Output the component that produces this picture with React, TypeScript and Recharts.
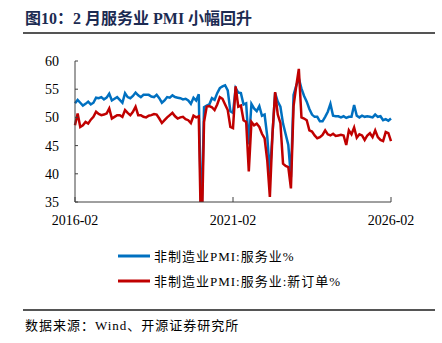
import { LineChart, Line, XAxis, YAxis, Legend } from "recharts";

// monthly, 2016-02 .. 2026-02
const servicePmi = [
  52.5, 53.1, 52.6, 52.1, 52.4, 52.8, 52.3, 52.6, 53.5, 53.4,
  53.6, 53.2, 53.5, 54.2, 53.0, 53.3, 53.6, 53.1, 52.6, 54.3,
  53.6, 53.4, 53.8, 54.4, 53.9, 53.6, 54.0, 54.0, 54.0, 53.7,
  53.6, 54.0, 53.4, 52.6, 53.0, 53.6, 53.5, 53.9, 53.6, 53.5,
  53.4, 53.2, 53.3, 53.0, 52.4, 53.5, 53.0, 54.1, 30.1, 51.8,
  52.1, 52.3, 53.4, 53.1, 54.3, 55.2, 55.5, 55.7, 54.8, 51.1,
  50.8, 55.2, 54.4, 54.3, 52.3, 52.5, 45.2, 52.4, 51.6, 51.1,
  52.0, 50.3, 50.5, 46.7, 40.0, 47.1, 54.3, 52.8, 51.9, 48.9,
  47.0, 45.1, 39.4, 54.0, 55.6, 56.9, 55.1, 53.8, 52.8, 51.5,
  50.5, 50.1, 50.1, 49.3, 49.3, 50.1, 51.0, 52.4, 50.3, 50.2,
  50.2, 50.0, 50.2, 49.9, 50.1, 50.1, 52.2, 50.3, 50.0, 50.3,
  50.1, 50.2, 50.1, 50.0, 50.5, 50.1, 50.2, 49.5, 49.7, 49.4,
  49.8,
];

const serviceNewOrders = [
  48.6, 50.7, 48.3, 48.6, 49.2, 48.9, 49.6, 50.1, 51.0, 50.6,
  50.4, 50.5, 50.7, 51.6, 49.8, 50.1, 50.4, 50.4, 50.1, 51.3,
  50.8, 50.4, 51.0, 51.9, 50.4, 50.4, 50.1, 50.0, 50.3, 50.4,
  50.6, 50.5, 49.8, 49.0, 49.5, 50.0, 50.4, 50.8, 50.2, 49.8,
  50.0, 50.1, 49.7, 49.5, 49.0, 50.3, 50.0, 50.2, 26.0, 49.2,
  51.9, 52.0, 51.8, 51.3, 52.3, 53.6, 53.3, 52.3, 51.3, 48.3,
  48.1, 55.5, 51.9, 52.1, 49.5, 49.2, 40.4, 49.2, 48.6, 48.9,
  48.3, 47.1, 46.3, 42.4, 35.9, 47.1, 54.5, 50.5, 49.0, 41.8,
  41.4, 41.2, 37.4, 52.0, 55.5, 58.6, 50.0, 49.8, 49.5, 47.7,
  47.5, 46.8, 46.3, 46.5, 46.9, 47.7, 47.0, 46.8, 47.1, 46.7,
  46.8, 46.9, 46.8, 45.1, 47.7, 47.0, 48.2, 46.4, 47.0, 46.8,
  46.0, 46.8, 47.2, 46.5, 47.7, 46.5, 46.0, 45.8, 47.4, 47.2,
  45.8,
];

const tickPos = [0, 60, 120];
const tickLabels = ["2016-02", "2021-02", "2026-02"];
const yTicks = [35, 40, 45, 50, 55, 60];

const data = servicePmi.map((v, i) => ({
  i,
  svc: v,
  ord: serviceNewOrders[i],
}));

const serif = "'Times New Roman', 'Liberation Serif', 'Noto Sans CJK SC', serif";

function renderLegend(props: any) {
  return (
    <div>
      {props.payload.map((p: any) => (
        <div key={p.value} style={{ height: 25, display: "flex", alignItems: "center" }}>
          <svg width={32} height={4} style={{ marginRight: 4 }}>
            <line x1={0} y1={2} x2={32} y2={2} stroke={p.color} strokeWidth={3} />
          </svg>
          <span style={{ fontSize: 13, color: "#000", fontFamily: serif, letterSpacing: 1 }}>
            {p.value}
          </span>
        </div>
      ))}
    </div>
  );
}

export default function App() {
  return (
    <div style={{ position: "absolute", left: 0, top: 0, width: 442, height: 343, background: "#fff" }}>
      <div
        style={{
          position: "absolute",
          left: 25,
          top: 5,
          fontSize: 16,
          fontWeight: "bold",
          color: "#1c2b52",
          fontFamily: serif,
          whiteSpace: "nowrap",
        }}
      >
        图10：2 月服务业 PMI 小幅回升
      </div>
      <div style={{ position: "absolute", left: 23, top: 32, width: 412, height: 1.5, background: "#555" }} />

      <LineChart
        width={442}
        height={343}
        data={data}
        margin={{ top: 61, right: 51, bottom: 113, left: 0 }}
      >
        <XAxis
          dataKey="i"
          type="number"
          domain={[0, 120]}
          ticks={tickPos}
          tickFormatter={(v: number) => tickLabels[tickPos.indexOf(v)]}
          height={28}
          tickSize={-5}
          tickMargin={18}
          stroke="#404040"
          tick={{ fill: "#000", fontSize: 14, fontFamily: serif }}
        />
        <YAxis
          domain={[35, 60]}
          ticks={yTicks}
          allowDataOverflow
          width={75}
          tickSize={-3}
          tickMargin={19}
          stroke="#404040"
          tick={{ fill: "#000", fontSize: 14, fontFamily: serif }}
        />
        <Legend
          layout="vertical"
          align="center"
          verticalAlign="middle"
          wrapperStyle={{ left: 118, top: 243, width: 300 }}
          content={renderLegend}
        />
        <Line
          dataKey="svc"
          name="非制造业PMI:服务业%"
          stroke="#0070C0"
          strokeWidth={2.5}
          dot={false}
          isAnimationActive={false}
        />
        <Line
          dataKey="ord"
          name="非制造业PMI:服务业:新订单%"
          stroke="#C00000"
          strokeWidth={2.5}
          dot={false}
          isAnimationActive={false}
        />
      </LineChart>

      <div style={{ position: "absolute", left: 23, top: 309, width: 412, height: 1.5, background: "#555" }} />
      <div
        style={{
          position: "absolute",
          left: 25,
          top: 315,
          fontSize: 13,
          color: "#000",
          fontFamily: serif,
          letterSpacing: 1,
          whiteSpace: "nowrap",
        }}
      >
        数据来源：Wind、开源证券研究所
      </div>
    </div>
  );
}
